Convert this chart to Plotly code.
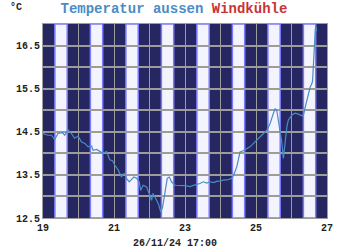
import plotly.graph_objects as go

# --- data ---
days = [19.00, 19.14, 19.24, 19.33, 19.42, 19.55, 19.61, 19.71, 19.80, 19.89, 19.99,
        20.08, 20.18, 20.27, 20.37, 20.41, 20.51, 20.60, 20.69, 20.79, 20.88, 20.96,
        21.02, 21.12, 21.21, 21.26, 21.31, 21.35, 21.43, 21.49, 21.56, 21.64, 21.71,
        21.75, 21.82, 21.92, 22.01, 22.06, 22.10, 22.18, 22.25, 22.29, 22.32, 22.37,
        22.41, 22.46, 22.50, 22.56, 22.62, 22.72, 22.86, 23.00, 23.14, 23.23, 23.33,
        23.42, 23.52, 23.61, 23.71, 23.80, 23.89, 23.99, 24.08, 24.22, 24.32, 24.37,
        24.41, 24.46, 24.50, 24.55, 24.64, 24.74, 24.83, 24.93, 25.02, 25.12, 25.21,
        25.31, 25.40, 25.49, 25.54, 25.59, 25.63, 25.68, 25.73, 25.77, 25.82, 25.87,
        25.91, 26.01, 26.10, 26.20, 26.29, 26.34, 26.38, 26.43, 26.48, 26.53, 26.56,
        26.59, 26.60, 26.62, 26.64, 26.67, 26.69, 26.70, 26.71]
temps = [14.46, 14.42, 14.42, 14.32, 14.46, 14.48, 14.42, 14.54, 14.46, 14.35, 14.40,
         14.27, 14.23, 14.15, 14.17, 14.07, 14.09, 14.04, 14.00, 14.04, 13.85, 13.83,
         13.73, 13.61, 13.45, 13.52, 13.53, 13.42, 13.34, 13.39, 13.45, 13.42, 13.34,
         13.14, 13.26, 13.22, 13.03, 12.91, 13.07, 12.95, 12.83, 12.72, 12.64, 12.76,
         12.99, 13.30, 13.42, 13.45, 13.34, 13.26, 13.26, 13.25, 13.23, 13.26, 13.28,
         13.30, 13.34, 13.31, 13.34, 13.32, 13.35, 13.36, 13.38, 13.39, 13.42, 13.49,
         13.57, 13.69, 13.84, 14.03, 14.06, 14.11, 14.15, 14.23, 14.31, 14.38, 14.46,
         14.54, 14.70, 14.93, 15.04, 14.97, 14.77, 14.54, 14.23, 13.88, 14.31, 14.62,
         14.77, 14.89, 14.93, 14.91, 14.87, 14.90, 15.05, 15.24, 15.41, 15.55, 15.59,
         15.66, 15.78, 16.17, 16.56, 16.87, 16.94, 16.83, 16.89]
day_starts = [19, 20, 21, 22, 23, 24, 25, 26]
sunrise_frac = 0.335
sunset_frac = 0.682
x_ticks = [19, 21, 23, 25, 27]
y_ticks = [12.5, 13.5, 14.5, 15.5, 16.5]
title_main = "Temperatur aussen"
title_second = "Windkühle"
unit_label = "°C"
timestamp = "26/11/24 17:00"

FONT = "Liberation Mono"
BLUE = "#4a8cc6"
RED = "#c83434"
DARK = "#262660"
LIGHT = "#f4f4ff"
EDGE = "#7a7aff"
GRID = "#9c9c9c"

fig = go.Figure()

# night/day stripes
shapes = [dict(type="rect", xref="x", yref="paper", x0=19, x1=27, y0=0, y1=1,
               fillcolor=DARK, line=dict(width=0), layer="below")]
for d in day_starts:
    shapes.append(dict(type="rect", xref="x", yref="paper",
                       x0=d + sunrise_frac, x1=d + sunset_frac, y0=0, y1=1,
                       fillcolor=LIGHT, line=dict(color=EDGE, width=1.5), layer="below"))

fig.add_trace(go.Scatter(x=days, y=temps, mode="lines",
                         line=dict(color=BLUE, width=1.2), showlegend=False,
                         hoverinfo="skip"))

fig.update_layout(
    width=350, height=250,
    margin=dict(l=43, r=23, t=24, b=32),
    paper_bgcolor="white", plot_bgcolor=DARK,
    shapes=shapes,
    showlegend=False,
    title=dict(text=f"<b><span style='color:{BLUE}'>{title_main}</span> "
                    f"<span style='color:{RED}'>{title_second}</span></b>",
               x=0.497, y=1 - 8 / 250, xref="container", yref="container",
               xanchor="center", yanchor="middle",
               font=dict(family=FONT, size=14)),
    annotations=[
        dict(text=f"<b>{unit_label}</b>", xref="paper", yref="paper",
             x=(16 - 43) / 284, y=(218 - 7) / 194, showarrow=False,
             xanchor="center", yanchor="middle",
             font=dict(family=FONT, size=10, color="#222")),
        dict(text=f"<b>{timestamp}</b>", xref="paper", yref="paper",
             x=(175 - 43) / 284, y=(218 - 243) / 194, showarrow=False,
             xanchor="center", yanchor="middle",
             font=dict(family=FONT, size=10, color="#222")),
    ],
)

fig.update_xaxes(range=[19, 27], tickvals=x_ticks,
                 ticktext=[f"<b>{t}</b>" for t in x_ticks],
                 showgrid=True, gridcolor=GRID, gridwidth=1,
                 minor=dict(dtick=1, tick0=19, showgrid=True, gridcolor=GRID, gridwidth=1),
                 showline=True, linecolor=GRID, linewidth=1, mirror=True,
                 ticks="", zeroline=False,
                 tickfont=dict(family=FONT, size=10, color="#222"))
fig.update_yaxes(range=[12.5, 17.0], tickvals=y_ticks,
                 ticktext=[f"<b>{t}</b>" for t in y_ticks],
                 showgrid=True, gridcolor=GRID, gridwidth=1.5,
                 minor=dict(dtick=0.5, tick0=12.5, showgrid=True, gridcolor=GRID, gridwidth=1.5),
                 showline=True, linecolor=GRID, linewidth=1, mirror=True,
                 ticks="", zeroline=False,
                 tickfont=dict(family=FONT, size=10, color="#222"))

fig.write_html("out.html")
